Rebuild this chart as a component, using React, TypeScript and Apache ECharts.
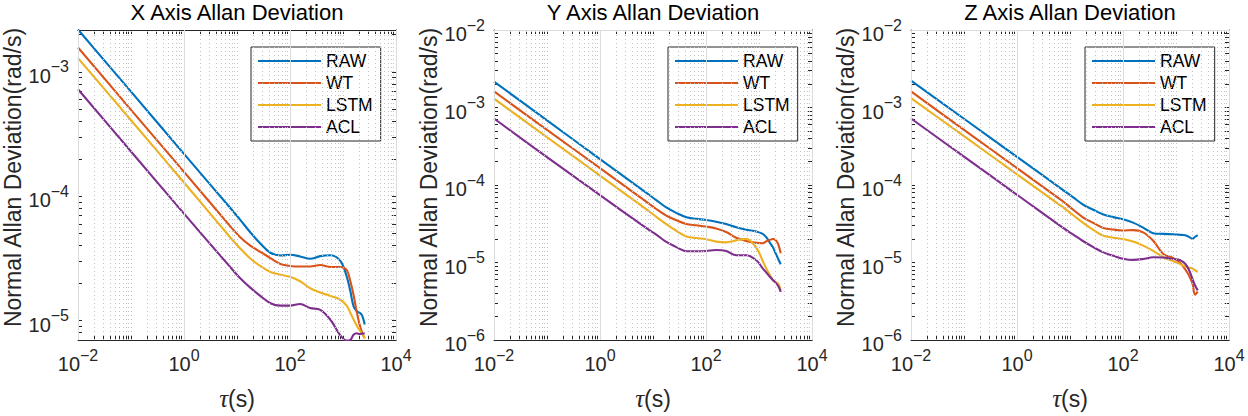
import React, { useEffect, useRef } from 'react';
import * as echarts from 'echarts';

// ---------- data ----------
const TAU = [0.01, 0.1, 1, 7.41, 11.5, 17.8, 27.5, 42.7, 66.1, 100, 155, 240, 372, 575, 891, 1175, 1380, 1585, 1820, 2042, 2291, 2570];

const X_RAW = [2.19e-3, 6.93e-4, 2.19e-4, 8.07e-5, 6.46e-5, 5.13e-5, 4.17e-5, 3.51e-5, 3.34e-5, 3.38e-5, 3.28e-5, 3.14e-5, 3.30e-5, 3.35e-5, 3.02e-5, 2.26e-5, 1.71e-5, 1.30e-5, 1.19e-5, 1.16e-5, 1.10e-5, 9.3e-6];
const X_WT = [1.57e-3, 4.95e-4, 1.57e-4, 5.75e-5, 4.68e-5, 4.01e-5, 3.57e-5, 3.18e-5, 2.85e-5, 2.75e-5, 2.72e-5, 2.72e-5, 2.80e-5, 2.70e-5, 2.70e-5, 2.55e-5, 2.06e-5, 1.60e-5, 1.17e-5, 9.4e-6, 8.0e-6, 7.2e-6];
const X_LSTM = [1.29e-3, 4.08e-4, 1.29e-4, 4.68e-5, 3.80e-5, 3.16e-5, 2.75e-5, 2.46e-5, 2.34e-5, 2.25e-5, 2.07e-5, 1.82e-5, 1.68e-5, 1.58e-5, 1.47e-5, 1.32e-5, 1.15e-5, 1.02e-5, 9.1e-6, 8.4e-6, 7.8e-6, 7.2e-6];
const X_ACL = [7.24e-4, 2.29e-4, 7.24e-5, 2.70e-5, 2.19e-5, 1.84e-5, 1.58e-5, 1.38e-5, 1.32e-5, 1.32e-5, 1.36e-5, 1.26e-5, 1.22e-5, 1.02e-5, 7.6e-6, 6.9e-6, 7.0e-6, 7.7e-6, 7.9e-6, 7.8e-6, 7.85e-6, 7.9e-6];

const Y_RAW = [2.16e-3, 6.82e-4, 2.16e-4, 7.98e-5, 6.38e-5, 5.13e-5, 4.37e-5, 3.83e-5, 3.66e-5, 3.53e-5, 3.35e-5, 3.13e-5, 2.85e-5, 2.64e-5, 2.51e-5, 2.34e-5, 2.11e-5, 1.82e-5, 1.58e-5, 1.33e-5, 1.12e-5, 9.5e-6];
const Y_WT = [1.61e-3, 5.15e-4, 1.65e-4, 6.12e-5, 4.90e-5, 4.02e-5, 3.51e-5, 3.14e-5, 3.02e-5, 2.91e-5, 2.75e-5, 2.47e-5, 2.09e-5, 1.90e-5, 1.79e-5, 1.77e-5, 1.88e-5, 1.95e-5, 2.01e-5, 1.95e-5, 1.74e-5, 1.32e-5];
const Y_LSTM = [1.30e-3, 4.13e-4, 1.32e-4, 4.89e-5, 3.89e-5, 3.13e-5, 2.57e-5, 2.17e-5, 2.07e-5, 2.0e-5, 1.86e-5, 1.82e-5, 1.93e-5, 2.02e-5, 1.55e-5, 1.05e-5, 8.3e-6, 7.0e-6, 5.96e-6, 5.62e-6, 5.37e-6, 4.37e-6];
const Y_ACL = [7.21e-4, 2.29e-4, 7.41e-5, 2.79e-5, 2.29e-5, 1.84e-5, 1.58e-5, 1.40e-5, 1.40e-5, 1.41e-5, 1.45e-5, 1.41e-5, 1.24e-5, 1.24e-5, 1.07e-5, 8.4e-6, 7.4e-6, 6.6e-6, 5.96e-6, 5.5e-6, 5.0e-6, 4.17e-6];

const Z_RAW = [2.22e-3, 7.16e-4, 2.31e-4, 8.61e-5, 6.92e-5, 5.56e-5, 4.79e-5, 4.17e-5, 3.85e-5, 3.61e-5, 3.27e-5, 2.82e-5, 2.39e-5, 2.34e-5, 2.31e-5, 2.28e-5, 2.26e-5, 2.21e-5, 2.11e-5, 2.02e-5, 2.15e-5, 2.26e-5];
const Z_WT = [1.61e-3, 5.15e-4, 1.65e-4, 6.12e-5, 4.79e-5, 3.80e-5, 3.24e-5, 2.78e-5, 2.66e-5, 2.59e-5, 2.62e-5, 2.45e-5, 1.91e-5, 1.29e-5, 1.14e-5, 1.0e-5, 8.8e-6, 7.66e-6, 6.5e-6, 5.37e-6, 3.84e-6, 4.23e-6];
const Z_LSTM = [1.32e-3, 4.27e-4, 1.37e-4, 5.13e-5, 4.07e-5, 3.24e-5, 2.63e-5, 2.21e-5, 2.09e-5, 2.01e-5, 1.86e-5, 1.65e-5, 1.41e-5, 1.17e-5, 1.04e-5, 9.6e-6, 9.08e-6, 8.75e-6, 8.55e-6, 8.36e-6, 7.94e-6, 7.59e-6];
const Z_ACL = [7.21e-4, 2.32e-4, 7.48e-5, 2.79e-5, 2.29e-5, 1.88e-5, 1.58e-5, 1.35e-5, 1.22e-5, 1.12e-5, 1.08e-5, 1.11e-5, 1.17e-5, 1.16e-5, 1.11e-5, 1.08e-5, 1.01e-5, 9.1e-6, 7.6e-6, 6.17e-6, 5.05e-6, 4.37e-6];

const SERIES_NAMES = ['RAW', 'WT', 'LSTM', 'ACL'];
const TITLES = ['X Axis Allan Deviation', 'Y Axis Allan Deviation', 'Z Axis Allan Deviation'];
const X_RANGE = [0.01, 10000];
const Y_RANGE_X = [6.98e-6, 2.17e-3];
const Y_RANGE_YZ = [1e-6, 1e-2];
const X_LABEL_STEP = 2; // x labels every 2 decades
const Y_NAME = 'Normal Allan Deviation(rad/s)';
const X_NAME = '{t|τ}(s)';

// ---------- styling ----------
const COLORS = ['#0072BD', '#D95319', '#EDB120', '#7E2F8E'];
const FONT = "'Liberation Sans', Arial, Helvetica, sans-serif";
const AX = '#262626';
const GRID_LEFTS = [78, 494, 911];
const GRID_TOP = 30;
const GRID_W = 318;
const GRID_H = 314;
const LEGEND_LEFTS = [251, 668, 1085];
const MAJOR_STYLE = { color: '#dcdcdc', width: 1, type: 'solid' };
const MINOR_STYLE = { color: '#c2c2c2', width: 1, type: [1, 3] };

function logTicks(min: number, max: number, majorStep: number) {
  const out: { v: number; major: boolean }[] = [];
  const k0 = Math.floor(Math.log10(min));
  const k1 = Math.ceil(Math.log10(max));
  for (let k = k0; k <= k1; k++) {
    for (let m = 1; m <= 9; m++) {
      const v = parseFloat((m * Math.pow(10, k)).toPrecision(6));
      if (v >= min * 0.9999 && v <= max * 1.0001) {
        out.push({ v, major: m === 1 && ((k % majorStep) + majorStep) % majorStep === 0 });
      }
    }
  }
  return out;
}

const labelRich = {
  b: { fontSize: 20, lineHeight: 20, padding: [8, 0, 0, 0], color: AX, fontFamily: FONT },
  e: { fontSize: 16, lineHeight: 16, padding: [1, 0, 11, 0], color: AX, fontFamily: FONT },
};

function makeFmt(step: number) {
  return (v: number) => {
    const l = Math.log10(v);
    const e = Math.round(l);
    if (Math.abs(l - e) > 0.01) return '';
    if (((e % step) + step) % step !== 0) return '';
    const s = e < 0 ? '\u2212' + String(-e) : String(e);
    return `{b|10}{e|${s}}`;
  };
}

function buildOption() {
  const panels = [
    { title: TITLES[0], data: [X_RAW, X_WT, X_LSTM, X_ACL], yr: Y_RANGE_X },
    { title: TITLES[1], data: [Y_RAW, Y_WT, Y_LSTM, Y_ACL], yr: Y_RANGE_YZ },
    { title: TITLES[2], data: [Z_RAW, Z_WT, Z_LSTM, Z_ACL], yr: Y_RANGE_YZ },
  ];
  const grid: any[] = [];
  const xAxis: any[] = [];
  const yAxis: any[] = [];
  const series: any[] = [];
  const title: any[] = [];
  const legend: any[] = [];
  const xt = logTicks(X_RANGE[0], X_RANGE[1], X_LABEL_STEP);

  panels.forEach((p, i) => {
    grid.push({ left: GRID_LEFTS[i], top: GRID_TOP, width: GRID_W, height: GRID_H, containLabel: false, show: false });
    const yt = logTicks(p.yr[0], p.yr[1], 1);
    const tickX = {
      show: true, inside: true, length: 4, lineStyle: { color: AX, width: 1 },
      customValues: xt.map((t) => t.v),
    };
    const tickY = {
      show: true, inside: true, length: 4, lineStyle: { color: AX, width: 1 },
      customValues: yt.map((t) => t.v),
    };
    const axLine = { show: true, lineStyle: { color: AX, width: 1 } };
    xAxis.push({
      type: 'log', logBase: 10, gridIndex: i, position: 'bottom', min: X_RANGE[0], max: X_RANGE[1],
      axisLine: axLine, axisTick: tickX, splitLine: { show: false }, minorTick: { show: false },
      axisLabel: { show: true, margin: 10, fontSize: 20, formatter: makeFmt(X_LABEL_STEP), rich: labelRich, showMinLabel: true, showMaxLabel: true },
      name: X_NAME, nameLocation: 'middle', nameGap: 46,
      nameTextStyle: {
        fontSize: 23, color: AX, fontFamily: FONT,
        rich: { t: { fontSize: 25, fontStyle: 'italic', fontFamily: "'Liberation Serif', 'Times New Roman', serif", color: AX } },
      },
    });
    xAxis.push({
      type: 'log', logBase: 10, gridIndex: i, position: 'top', min: X_RANGE[0], max: X_RANGE[1],
      axisLine: axLine, axisTick: tickX, splitLine: { show: false }, axisLabel: { show: false },
    });
    yAxis.push({
      type: 'log', logBase: 10, gridIndex: i, position: 'left', min: p.yr[0], max: p.yr[1],
      axisLine: axLine, axisTick: tickY, splitLine: { show: false }, minorTick: { show: false },
      axisLabel: { show: true, margin: 9, fontSize: 20, formatter: makeFmt(1), rich: labelRich, showMinLabel: true, showMaxLabel: true },
      name: Y_NAME, nameLocation: 'middle', nameGap: 52,
      nameTextStyle: { fontSize: 23, color: AX, fontFamily: FONT, padding: [0, 0, 0, 15] },
    });
    yAxis.push({
      type: 'log', logBase: 10, gridIndex: i, position: 'right', min: p.yr[0], max: p.yr[1],
      axisLine: axLine, axisTick: tickY, splitLine: { show: false }, axisLabel: { show: false },
    });

    const gridLines: any[] = [];
    xt.forEach((t) => gridLines.push({ xAxis: t.v, lineStyle: t.major ? MAJOR_STYLE : MINOR_STYLE }));
    yt.forEach((t) => gridLines.push({ yAxis: t.v, lineStyle: t.major ? MAJOR_STYLE : MINOR_STYLE }));
    series.push({
      type: 'line', name: 'grid' + i, xAxisIndex: i * 2, yAxisIndex: i * 2, data: [], z: 1, silent: true,
      markLine: {
        silent: true, symbol: ['none', 'none'], animation: false, label: { show: false },
        emphasis: { disabled: true }, data: gridLines,
      },
    });

    p.data.forEach((vals, s) => {
      series.push({
        type: 'line', name: SERIES_NAMES[s], xAxisIndex: i * 2, yAxisIndex: i * 2,
        data: TAU.map((t, k) => [t, vals[k]]),
        showSymbol: false, symbol: 'none', smooth: 0.35, z: 3, clip: true,
        lineStyle: { width: 2.1, color: COLORS[s] }, itemStyle: { color: COLORS[s] },
      });
    });

    title.push({
      text: p.title, left: GRID_LEFTS[i] + GRID_W / 2, top: 1, textAlign: 'center', padding: 0,
      textStyle: { fontSize: 22, fontWeight: 'normal', color: '#000', fontFamily: FONT },
    });
    legend.push({
      show: true, orient: 'vertical', left: LEGEND_LEFTS[i], top: 47,
      padding: [5, 8, 5, 6], itemGap: 4, itemWidth: 63, itemHeight: 20,
      borderColor: AX, borderWidth: 1, backgroundColor: '#ffffff', borderRadius: 0,
      selectedMode: false, data: SERIES_NAMES,
      itemStyle: { opacity: 0 },
      textStyle: { fontSize: 17.5, color: '#000', fontFamily: FONT },
    });
  });

  return {
    animation: false,
    backgroundColor: '#ffffff',
    title, legend, grid, xAxis, yAxis, series,
  };
}

export default function App() {
  const ref = useRef<HTMLDivElement>(null);
  useEffect(() => {
    if (!ref.current) return;
    const chart = echarts.init(ref.current, undefined, { renderer: 'svg' });
    chart.setOption(buildOption() as any);
    return () => chart.dispose();
  }, []);
  return (
    <div
      ref={ref}
      style={{ position: 'fixed', left: 0, top: 0, width: 1248, height: 416, background: '#fff' }}
    />
  );
}
